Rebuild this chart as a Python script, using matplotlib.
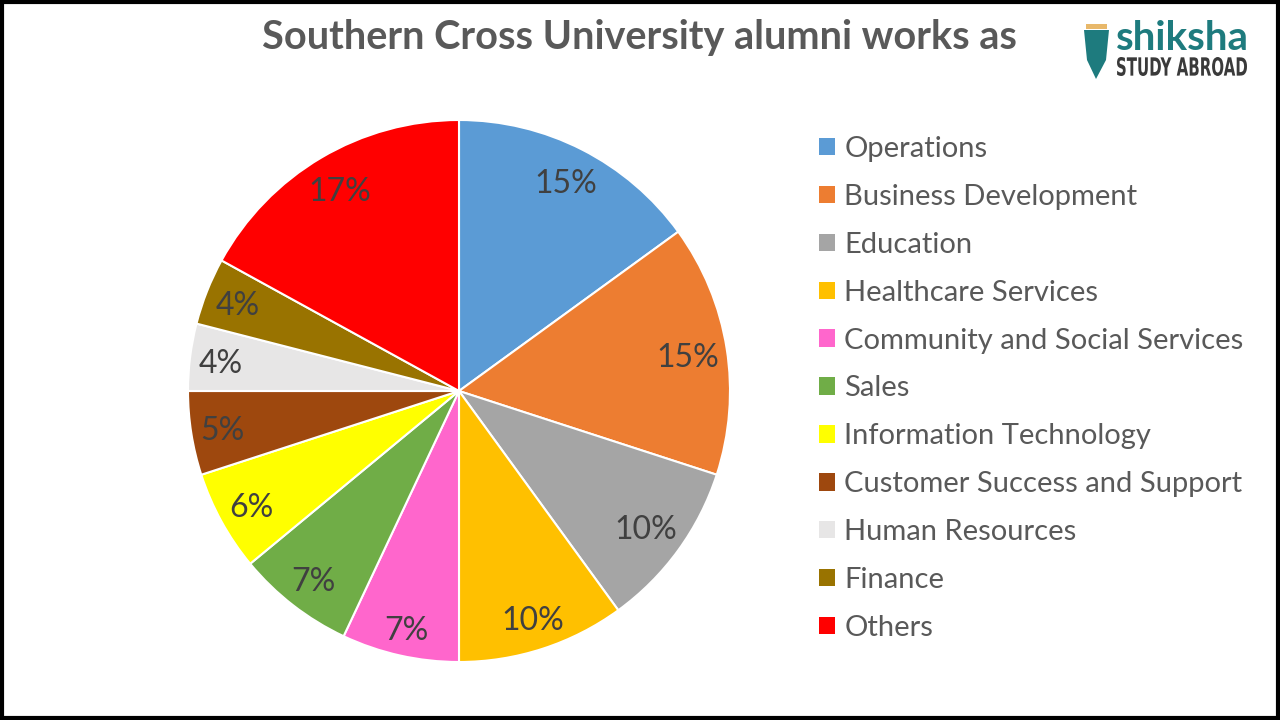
import matplotlib
matplotlib.use("Agg")
import numpy as np
import matplotlib.pyplot as plt
from matplotlib.patches import Patch, Rectangle, Polygon, PathPatch
from matplotlib.textpath import TextPath
from matplotlib.font_manager import FontProperties
from matplotlib.transforms import Affine2D, IdentityTransform

categories = ["Operations", "Business Development", "Education", "Healthcare Services",
              "Community and Social Services", "Sales", "Information Technology",
              "Customer Success and Support", "Human Resources", "Finance", "Others"]
values = [15, 15, 10, 10, 7, 7, 6, 5, 4, 4, 17]
colors = ["#5B9BD5", "#ED7D31", "#A5A5A5", "#FFC000", "#FF66CC", "#70AD47",
          "#FFFF00", "#9E480E", "#E7E6E6", "#997300", "#FF0000"]

plt.rcParams['font.family'] = ['Lato', 'DejaVu Sans']

W, H = 1280, 720
fig = plt.figure(figsize=(12.8, 7.2), dpi=100)
fig.patch.set_facecolor("white")

# pie axes
cx, cy, r = 459, 329, 271
ax = fig.add_axes([(cx - r) / W, (cy - r) / H, 2 * r / W, 2 * r / H])
wedges, texts, autotexts = ax.pie(
    values, colors=colors, startangle=90, counterclock=False,
    autopct=lambda p: f"{p:.0f}%", pctdistance=0.845,
    wedgeprops=dict(edgecolor="white", linewidth=1.5),
    textprops=dict(fontsize=23, color="#404040"))
ax.set_aspect("equal")
ax.set_xlim(-1, 1)
ax.set_ylim(-1, 1)

# "inside end" style: push each label out until its box nearly touches the rim
fig.canvas.draw()
renderer = fig.canvas.get_renderer()
R_inner = 0.955 * r
for w, t in zip(wedges, autotexts):
    t.set_verticalalignment("center_baseline")
    th = np.deg2rad((w.theta1 + w.theta2) / 2)
    bb = t.get_window_extent(renderer)
    hw, hh = bb.width * 0.4, bb.height * 0.42
    d = R_inner - (hw * abs(np.cos(th)) + hh * abs(np.sin(th)))
    t.set_position((d / r * np.cos(th), d / r * np.sin(th)))

# title
fig.text(639 / W, 1 - 38 / H, "Southern Cross University alumni works as",
         ha="center", va="center", fontsize=28.5, fontweight="bold", color="#595959")

# legend
handles = [Patch(facecolor=c, edgecolor="none") for c in colors]
leg = fig.legend(handles, categories, loc="upper left",
                 bbox_to_anchor=(819 / W, 1 - 136 / H), frameon=False,
                 fontsize=21, labelcolor="#595959", handlelength=0.55,
                 handleheight=0.55, handletextpad=0.32, labelspacing=0.75,
                 borderaxespad=0, borderpad=0)

# logo
def boxed_text(s, x0, x1, ytop, ybot, color, weight):
    tp = TextPath((0, 0), s, size=20, prop=FontProperties(family="DejaVu Sans", weight=weight))
    ext = tp.get_extents()
    sx = (x1 - x0) / ext.width
    sy = (ybot - ytop) / ext.height
    tr = Affine2D().translate(-ext.x0, -ext.y0).scale(sx, sy).translate(x0, H - ybot)
    fig.patches.append(PathPatch(tp, transform=tr + IdentityTransform(),
                                 facecolor=color, edgecolor="none"))

fig.text(1116 / W, 1 - 39 / H, "shiksha", fontsize=29, fontweight="bold",
         color="#1E7B7E", ha="left", va="center")
boxed_text("STUDY ABROAD", 1117, 1247, 57, 76, "#3A3A3A", "bold")
fig.patches.append(Polygon([(1084 / W, 1 - 30 / H), (1109 / W, 1 - 30 / H),
                            (1106 / W, 1 - 60 / H), (1096 / W, 1 - 79 / H),
                            (1087 / W, 1 - 60 / H)],
                           closed=True, transform=fig.transFigure,
                           facecolor="#1E7B7E", edgecolor="none"))
fig.patches.append(Rectangle((1086 / W, 1 - 29 / H), 21 / W, 5 / H,
                             transform=fig.transFigure, facecolor="#E8B86A",
                             edgecolor="none"))

# border
fig.patches.append(Rectangle((0.0015, 0.0025), 0.997, 0.995, transform=fig.transFigure,
                             facecolor="none", edgecolor="black", linewidth=3))

fig.savefig("out.png", dpi=100)
